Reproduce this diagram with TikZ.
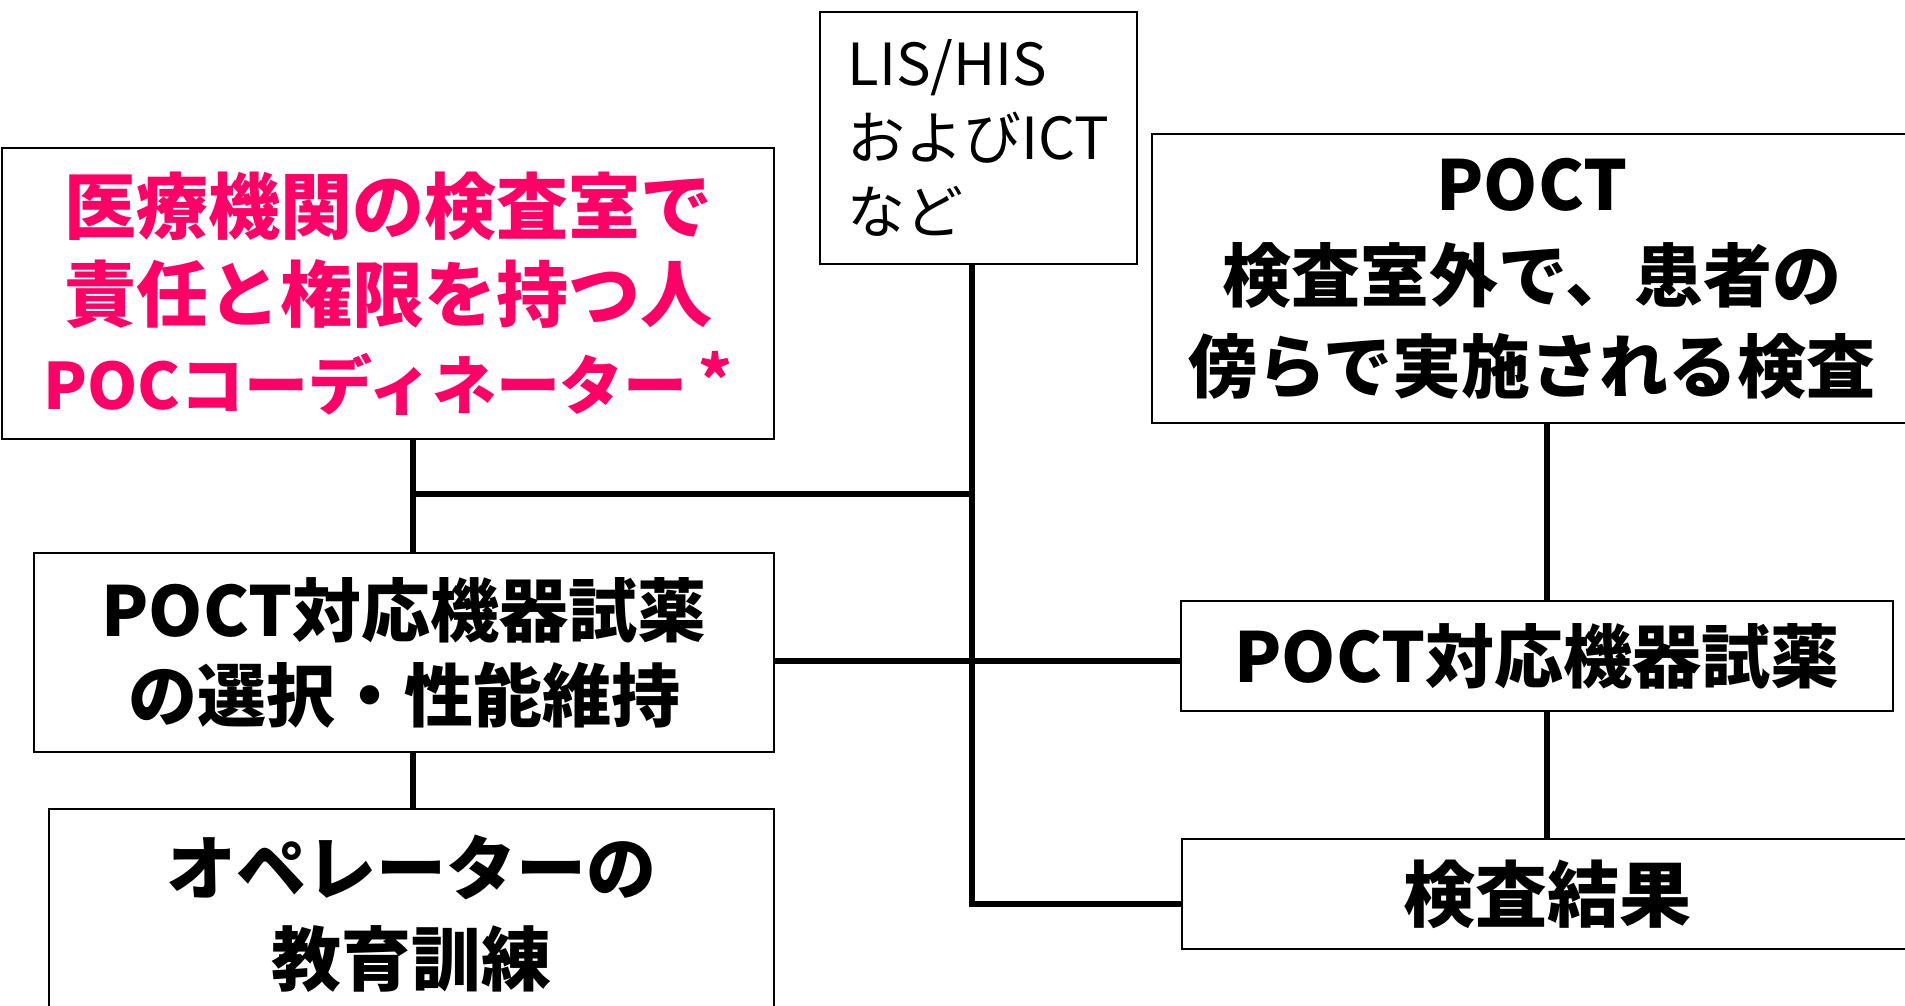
\documentclass[tikz,border=0pt]{standalone}
\usepackage{fontspec}
\setmainfont{Noto Sans CJK JP}
\definecolor{pocpink}{RGB}{255,0,102}
\begin{document}
\begin{tikzpicture}[x=1pt,y=-1pt,
  box/.style={draw,line width=2pt,inner sep=0pt,align=center},
  conn/.style={line width=5.5pt}]
\useasboundingbox (0,0) rectangle (1905,1006);
\clip (0,0) rectangle (1905,1006);
% nodes
\node[box,minimum width=772pt,minimum height=291pt,text=pocpink,
      font=\bfseries\fontsize{72}{88}\selectfont] (coord) at (388,293.5)
  {医療機関の検査室で\\責任と権限を持つ人\\{\fontsize{64}{88}\selectfont POCコーディネーター\,\raisebox{6pt}{*}}};
\node[box,minimum width=317pt,minimum height=252pt,align=left,
      font=\fontsize{58}{74}\selectfont] (lis) at (978.5,138)
  {LIS/HIS\\およびICT\\など};
\node[box,minimum width=760pt,minimum height=289pt,
      font=\bfseries\fontsize{69}{91}\selectfont] (poct) at (1532,278.5)
  {POCT\\検査室外で、患者の\\傍らで実施される検査};
\node[box,minimum width=740pt,minimum height=199pt,
      font=\bfseries\fontsize{69}{85}\selectfont] (sel) at (404,652.5)
  {POCT対応機器試薬\\の選択・性能維持};
\node[box,minimum width=725pt,minimum height=210pt,
      font=\bfseries\fontsize{70}{91}\selectfont] (op) at (411.5,914)
  {オペレーターの\\教育訓練};
\node[box,minimum width=712pt,minimum height=110pt,
      font=\bfseries\fontsize{69}{85}\selectfont] (dev) at (1537,656)
  {POCT対応機器試薬};
\node[box,minimum width=730pt,minimum height=110pt,
      font=\bfseries\fontsize{72}{85}\selectfont] (res) at (1547,894)
  {検査結果};
% junction coordinates
\coordinate (trunk) at (972,494);
\coordinate (lv) at (413,494);
\coordinate (mid) at (972,661);
\coordinate (bot) at (972,904);
\coordinate (rv) at (1547,500);
% connectors
\draw[conn] (trunk |- lis.south) -- (bot) -- (res.west |- bot);
\draw[conn] (lv |- coord.south) -- (lv |- sel.north);
\draw[conn] (lv) -- (trunk);
\draw[conn] (lv |- sel.south) -- (lv |- op.north);
\draw[conn] (sel.east |- mid) -- (dev.west |- mid);
\draw[conn] (rv |- poct.south) -- (rv |- dev.north);
\draw[conn] (rv |- dev.south) -- (rv |- res.north);
\end{tikzpicture}
\end{document}
